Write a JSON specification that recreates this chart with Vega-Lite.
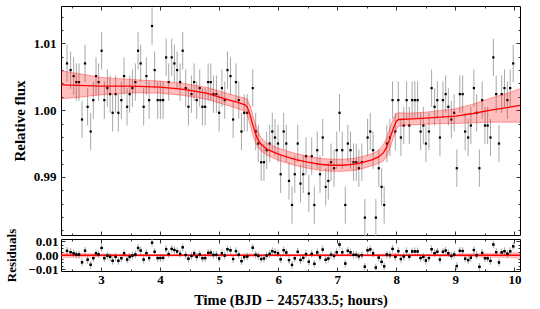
{
  "$schema": "https://vega.github.io/schema/vega-lite/v6.json",
  "padding": {"left": 4, "top": 5, "right": 21, "bottom": 2},
  "bounds": "flush",
  "spacing": 4,
  "background": "white",
  "config": {
    "view": {"stroke": "black", "strokeWidth": 1},
    "axis": {"domain": false, "grid": false, "labelFont": "Liberation Serif", "labelFontWeight": "bold", "labelFontSize": 13, "labelColor": "black", "titleFont": "Liberation Serif", "titleFontWeight": "bold", "titleColor": "black", "tickColor": "black", "tickWidth": 0.8}
  },
  "datasets": {
    "obs": [
      {"t":2.424,"f":1.0070,"r":0.0032,"e":0.0028},{"t":2.485,"f":1.0060,"r":0.0023,"e":0.0028},{"t":2.536,"f":1.0051,"r":0.0014,"e":0.0028},{"t":2.581,"f":1.0042,"r":0.0005,"e":0.0028},{"t":2.627,"f":1.0042,"r":0.0005,"e":0.0028},{"t":2.678,"f":0.9986,"r":-0.0051,"e":0.0028},{"t":2.729,"f":1.0070,"r":0.0033,"e":0.0028},{"t":2.773,"f":1.0005,"r":-0.0032,"e":0.0028},{"t":2.824,"f":0.9968,"r":-0.0069,"e":0.0028},{"t":2.869,"f":1.0015,"r":-0.0021,"e":0.0028},
      {"t":2.915,"f":1.0051,"r":0.0015,"e":0.0028},{"t":2.959,"f":1.0042,"r":0.0006,"e":0.0028},{"t":3.010,"f":1.0089,"r":0.0053,"e":0.0028},{"t":3.056,"f":1.0015,"r":-0.0021,"e":0.0028},{"t":3.107,"f":1.0033,"r":-0.0003,"e":0.0028},{"t":3.153,"f":1.0024,"r":-0.0012,"e":0.0028},{"t":3.197,"f":0.9996,"r":-0.0040,"e":0.0028},{"t":3.247,"f":1.0024,"r":-0.0012,"e":0.0028},{"t":3.293,"f":0.9996,"r":-0.0040,"e":0.0028},{"t":3.344,"f":1.0015,"r":-0.0021,"e":0.0028},
      {"t":3.390,"f":1.0051,"r":0.0015,"e":0.0028},{"t":3.441,"f":1.0005,"r":-0.0031,"e":0.0028},{"t":3.485,"f":1.0024,"r":-0.0012,"e":0.0028},{"t":3.531,"f":1.0033,"r":-0.0003,"e":0.0028},{"t":3.581,"f":1.0042,"r":0.0006,"e":0.0028},{"t":3.627,"f":1.0089,"r":0.0053,"e":0.0028},{"t":3.671,"f":1.0070,"r":0.0034,"e":0.0028},{"t":3.722,"f":1.0005,"r":-0.0031,"e":0.0028},{"t":3.768,"f":1.0051,"r":0.0016,"e":0.0028},{"t":3.814,"f":1.0015,"r":-0.0020,"e":0.0028},
      {"t":3.864,"f":1.0126,"r":0.0091,"e":0.0028},{"t":3.908,"f":1.0060,"r":0.0025,"e":0.0028},{"t":3.959,"f":1.0015,"r":-0.0020,"e":0.0028},{"t":4.005,"f":1.0015,"r":-0.0020,"e":0.0028},{"t":4.051,"f":1.0015,"r":-0.0019,"e":0.0028},{"t":4.102,"f":1.0079,"r":0.0045,"e":0.0028},{"t":4.146,"f":1.0042,"r":0.0009,"e":0.0028},{"t":4.197,"f":1.0079,"r":0.0046,"e":0.0028},{"t":4.242,"f":1.0070,"r":0.0038,"e":0.0028},{"t":4.288,"f":1.0060,"r":0.0028,"e":0.0028},
      {"t":4.339,"f":1.0042,"r":0.0010,"e":0.0028},{"t":4.383,"f":1.0089,"r":0.0058,"e":0.0028},{"t":4.434,"f":1.0033,"r":0.0002,"e":0.0028},{"t":4.480,"f":1.0005,"r":-0.0025,"e":0.0028},{"t":4.531,"f":1.0024,"r":-0.0005,"e":0.0028},{"t":4.576,"f":1.0042,"r":0.0014,"e":0.0028},{"t":4.620,"f":1.0015,"r":-0.0012,"e":0.0028},{"t":4.671,"f":1.0033,"r":0.0006,"e":0.0028},{"t":4.717,"f":1.0005,"r":-0.0021,"e":0.0028},{"t":4.763,"f":1.0005,"r":-0.0020,"e":0.0028},
      {"t":4.814,"f":1.0042,"r":0.0017,"e":0.0028},{"t":4.858,"f":1.0042,"r":0.0019,"e":0.0028},{"t":4.903,"f":1.0024,"r":0.0002,"e":0.0028},{"t":4.954,"f":1.0024,"r":0.0003,"e":0.0028},{"t":5.000,"f":0.9996,"r":-0.0023,"e":0.0028},{"t":5.047,"f":1.0033,"r":0.0015,"e":0.0028},{"t":5.095,"f":1.0015,"r":-0.0002,"e":0.0028},{"t":5.141,"f":1.0060,"r":0.0044,"e":0.0028},{"t":5.192,"f":1.0051,"r":0.0036,"e":0.0028},{"t":5.237,"f":0.9986,"r":-0.0027,"e":0.0028},
      {"t":5.285,"f":1.0042,"r":0.0030,"e":0.0028},{"t":5.332,"f":1.0015,"r":0.0004,"e":0.0028},{"t":5.378,"f":0.9968,"r":-0.0042,"e":0.0028},{"t":5.425,"f":0.9996,"r":-0.0013,"e":0.0028},{"t":5.476,"f":0.9996,"r":-0.0009,"e":0.0028},{"t":5.569,"f":1.0033,"r":0.0055,"e":0.0028},{"t":5.619,"f":0.9968,"r":0.0003,"e":0.0028},{"t":5.663,"f":0.9950,"r":-0.0005,"e":0.0028},{"t":5.712,"f":0.9922,"r":-0.0027,"e":0.0028},{"t":5.759,"f":0.9922,"r":-0.0023,"e":0.0028},
      {"t":5.805,"f":0.9940,"r":-0.0002,"e":0.0028},{"t":5.856,"f":0.9950,"r":0.0010,"e":0.0028},{"t":5.900,"f":0.9968,"r":0.0030,"e":0.0028},{"t":5.946,"f":0.9959,"r":0.0023,"e":0.0028},{"t":5.997,"f":0.9950,"r":0.0015,"e":0.0028},{"t":6.042,"f":0.9904,"r":-0.0029,"e":0.0028},{"t":6.093,"f":0.9968,"r":0.0037,"e":0.0028},{"t":6.137,"f":0.9950,"r":0.0020,"e":0.0028},{"t":6.183,"f":0.9894,"r":-0.0035,"e":0.0028},{"t":6.234,"f":0.9858,"r":-0.0070,"e":0.0028},
      {"t":6.281,"f":0.9904,"r":-0.0022,"e":0.0028},{"t":6.331,"f":0.9950,"r":0.0025,"e":0.0028},{"t":6.378,"f":0.9890,"r":-0.0034,"e":0.0028},{"t":6.424,"f":0.9904,"r":-0.0019,"e":0.0028},{"t":6.471,"f":0.9931,"r":0.0009,"e":0.0028},{"t":6.519,"f":0.9875,"r":-0.0047,"e":0.0028},{"t":6.568,"f":0.9931,"r":0.0010,"e":0.0028},{"t":6.612,"f":0.9858,"r":-0.0062,"e":0.0028},{"t":6.661,"f":0.9940,"r":0.0021,"e":0.0028},{"t":6.708,"f":0.9904,"r":-0.0015,"e":0.0028},
      {"t":6.754,"f":0.9959,"r":0.0041,"e":0.0028},{"t":6.805,"f":0.9885,"r":-0.0033,"e":0.0028},{"t":6.849,"f":0.9894,"r":-0.0024,"e":0.0028},{"t":6.895,"f":0.9922,"r":0.0004,"e":0.0028},{"t":6.946,"f":0.9913,"r":-0.0005,"e":0.0028},{"t":6.992,"f":0.9940,"r":0.0022,"e":0.0028},{"t":7.039,"f":0.9996,"r":0.0078,"e":0.0028},{"t":7.085,"f":0.9940,"r":0.0022,"e":0.0028},{"t":7.136,"f":0.9858,"r":-0.0060,"e":0.0028},{"t":7.180,"f":0.9950,"r":0.0032,"e":0.0028},
      {"t":7.225,"f":0.9940,"r":0.0021,"e":0.0028},{"t":7.276,"f":0.9922,"r":0.0003,"e":0.0028},{"t":7.322,"f":0.9922,"r":0.0003,"e":0.0028},{"t":7.366,"f":0.9913,"r":-0.0007,"e":0.0028},{"t":7.417,"f":0.9922,"r":0.0001,"e":0.0028},{"t":7.468,"f":0.9839,"r":-0.0083,"e":0.0028},{"t":7.514,"f":0.9959,"r":0.0036,"e":0.0028},{"t":7.559,"f":0.9968,"r":0.0043,"e":0.0028},{"t":7.607,"f":0.9940,"r":0.0014,"e":0.0028},{"t":7.654,"f":0.9839,"r":-0.0089,"e":0.0028},
      {"t":7.703,"f":0.9913,"r":-0.0017,"e":0.0028},{"t":7.751,"f":0.9885,"r":-0.0048,"e":0.0028},{"t":7.795,"f":0.9858,"r":-0.0080,"e":0.0028},{"t":7.841,"f":0.9950,"r":0.0005,"e":0.0028},{"t":7.892,"f":0.9959,"r":0.0001,"e":0.0028},{"t":7.937,"f":1.0015,"r":0.0046,"e":0.0028},{"t":7.983,"f":0.9968,"r":-0.0012,"e":0.0028},{"t":8.034,"f":1.0015,"r":0.0030,"e":0.0028},{"t":8.078,"f":0.9959,"r":-0.0027,"e":0.0028},{"t":8.127,"f":0.9977,"r":-0.0009,"e":0.0028},
      {"t":8.175,"f":1.0015,"r":0.0029,"e":0.0028},{"t":8.220,"f":0.9977,"r":-0.0010,"e":0.0028},{"t":8.268,"f":1.0015,"r":0.0028,"e":0.0028},{"t":8.315,"f":1.0015,"r":0.0028,"e":0.0028},{"t":8.361,"f":1.0015,"r":0.0028,"e":0.0028},{"t":8.412,"f":0.9968,"r":-0.0020,"e":0.0028},{"t":8.458,"f":0.9977,"r":-0.0011,"e":0.0028},{"t":8.502,"f":0.9950,"r":-0.0038,"e":0.0028},{"t":8.553,"f":0.9968,"r":-0.0020,"e":0.0028},{"t":8.598,"f":1.0033,"r":0.0044,"e":0.0028},
      {"t":8.649,"f":1.0005,"r":0.0016,"e":0.0028},{"t":8.695,"f":1.0015,"r":0.0026,"e":0.0028},{"t":8.739,"f":0.9959,"r":-0.0031,"e":0.0028},{"t":8.790,"f":1.0015,"r":0.0025,"e":0.0028},{"t":8.836,"f":1.0024,"r":0.0034,"e":0.0028},{"t":8.881,"f":1.0005,"r":0.0015,"e":0.0028},{"t":8.932,"f":0.9986,"r":-0.0005,"e":0.0028},{"t":8.980,"f":0.9996,"r":0.0005,"e":0.0028},{"t":9.025,"f":0.9913,"r":-0.0078,"e":0.0028},{"t":9.076,"f":1.0024,"r":0.0032,"e":0.0028},
      {"t":9.124,"f":1.0024,"r":0.0031,"e":0.0028},{"t":9.166,"f":0.9968,"r":-0.0025,"e":0.0028},{"t":9.217,"f":0.9959,"r":-0.0035,"e":0.0028},{"t":9.263,"f":0.9977,"r":-0.0018,"e":0.0028},{"t":9.314,"f":1.0033,"r":0.0038,"e":0.0028},{"t":9.361,"f":0.9996,"r":0.0000,"e":0.0028},{"t":9.407,"f":0.9913,"r":-0.0084,"e":0.0028},{"t":9.454,"f":1.0015,"r":0.0017,"e":0.0028},{"t":9.502,"f":0.9977,"r":-0.0021,"e":0.0028},{"t":9.547,"f":0.9977,"r":-0.0022,"e":0.0028},
      {"t":9.595,"f":0.9959,"r":-0.0041,"e":0.0028},{"t":9.644,"f":1.0079,"r":0.0078,"e":0.0028},{"t":9.692,"f":1.0024,"r":0.0023,"e":0.0028},{"t":9.739,"f":0.9950,"r":-0.0052,"e":0.0028},{"t":9.785,"f":1.0024,"r":0.0021,"e":0.0028},{"t":9.832,"f":1.0033,"r":0.0030,"e":0.0028},{"t":9.881,"f":1.0015,"r":0.0011,"e":0.0028},{"t":9.929,"f":1.0033,"r":0.0029,"e":0.0028},{"t":9.980,"f":1.0070,"r":0.0065,"e":0.0028}
    ],
    "model": [
      {"t":2.322,"m":1.0038,"lo":1.0017,"hi":1.0059,"rlo":-0.0021,"rhi":0.0021},
      {"t":2.6,"m":1.0037,"lo":1.0019,"hi":1.0055,"rlo":-0.0018,"rhi":0.0018},
      {"t":3.0,"m":1.0036,"lo":1.0023,"hi":1.0049,"rlo":-0.0013,"rhi":0.0013},
      {"t":3.5,"m":1.0036,"lo":1.0026,"hi":1.0046,"rlo":-0.0010,"rhi":0.0010},
      {"t":4.0,"m":1.00345,"lo":1.00255,"hi":1.00435,"rlo":-0.0009,"rhi":0.0009},
      {"t":4.4,"m":1.0031,"lo":1.0022,"hi":1.0040,"rlo":-0.0009,"rhi":0.0009},
      {"t":4.8,"m":1.0025,"lo":1.0016,"hi":1.0034,"rlo":-0.0009,"rhi":0.0009},
      {"t":5.1,"m":1.0017,"lo":1.0008,"hi":1.0026,"rlo":-0.0009,"rhi":0.0009},
      {"t":5.3,"m":1.0012,"lo":1.0003,"hi":1.0021,"rlo":-0.0009,"rhi":0.0009},
      {"t":5.44,"m":1.0008,"lo":0.9998,"hi":1.0018,"rlo":-0.0010,"rhi":0.0010},
      {"t":5.48,"m":1.0004,"lo":0.9992,"hi":1.0016,"rlo":-0.0012,"rhi":0.0012},
      {"t":5.52,"m":0.9994,"lo":0.9980,"hi":1.0008,"rlo":-0.0014,"rhi":0.0014},
      {"t":5.56,"m":0.9981,"lo":0.9966,"hi":0.9996,"rlo":-0.0015,"rhi":0.0015},
      {"t":5.60,"m":0.9969,"lo":0.9955,"hi":0.9983,"rlo":-0.0014,"rhi":0.0014},
      {"t":5.65,"m":0.9957,"lo":0.9945,"hi":0.9969,"rlo":-0.0012,"rhi":0.0012},
      {"t":5.70,"m":0.9950,"lo":0.9940,"hi":0.9960,"rlo":-0.0010,"rhi":0.0010},
      {"t":5.80,"m":0.9942,"lo":0.9933,"hi":0.9951,"rlo":-0.0009,"rhi":0.0009},
      {"t":5.95,"m":0.9936,"lo":0.9927,"hi":0.9945,"rlo":-0.0009,"rhi":0.0009},
      {"t":6.1,"m":0.9931,"lo":0.9922,"hi":0.9940,"rlo":-0.0009,"rhi":0.0009},
      {"t":6.3,"m":0.9926,"lo":0.9917,"hi":0.9935,"rlo":-0.0009,"rhi":0.0009},
      {"t":6.5,"m":0.9922,"lo":0.9913,"hi":0.9931,"rlo":-0.0009,"rhi":0.0009},
      {"t":6.7,"m":0.9919,"lo":0.9910,"hi":0.9928,"rlo":-0.0009,"rhi":0.0009},
      {"t":6.9,"m":0.99175,"lo":0.99085,"hi":0.99265,"rlo":-0.0009,"rhi":0.0009},
      {"t":7.1,"m":0.99175,"lo":0.99085,"hi":0.99265,"rlo":-0.0009,"rhi":0.0009},
      {"t":7.3,"m":0.9919,"lo":0.9910,"hi":0.9928,"rlo":-0.0009,"rhi":0.0009},
      {"t":7.45,"m":0.9922,"lo":0.9913,"hi":0.9931,"rlo":-0.0009,"rhi":0.0009},
      {"t":7.6,"m":0.9926,"lo":0.9917,"hi":0.9935,"rlo":-0.0009,"rhi":0.0009},
      {"t":7.7,"m":0.9930,"lo":0.9920,"hi":0.9940,"rlo":-0.0010,"rhi":0.0010},
      {"t":7.78,"m":0.9936,"lo":0.9924,"hi":0.9948,"rlo":-0.0012,"rhi":0.0012},
      {"t":7.84,"m":0.9945,"lo":0.9931,"hi":0.9959,"rlo":-0.0014,"rhi":0.0014},
      {"t":7.90,"m":0.9960,"lo":0.9945,"hi":0.9975,"rlo":-0.0015,"rhi":0.0015},
      {"t":7.96,"m":0.9975,"lo":0.9961,"hi":0.9989,"rlo":-0.0014,"rhi":0.0014},
      {"t":8.00,"m":0.9983,"lo":0.9971,"hi":0.9995,"rlo":-0.0012,"rhi":0.0012},
      {"t":8.04,"m":0.9986,"lo":0.9976,"hi":0.9996,"rlo":-0.0010,"rhi":0.0010},
      {"t":8.2,"m":0.99865,"lo":0.99775,"hi":0.99955,"rlo":-0.0009,"rhi":0.0009},
      {"t":8.5,"m":0.9988,"lo":0.9979,"hi":0.9997,"rlo":-0.0009,"rhi":0.0009},
      {"t":8.8,"m":0.9990,"lo":0.9980,"hi":1.0000,"rlo":-0.0010,"rhi":0.0010},
      {"t":9.0,"m":0.9991,"lo":0.9980,"hi":1.0002,"rlo":-0.0011,"rhi":0.0011},
      {"t":9.3,"m":0.9995,"lo":0.9981,"hi":1.0009,"rlo":-0.0014,"rhi":0.0014},
      {"t":9.6,"m":1.0000,"lo":0.9982,"hi":1.0018,"rlo":-0.0018,"rhi":0.0018},
      {"t":9.9,"m":1.0004,"lo":0.9982,"hi":1.0026,"rlo":-0.0022,"rhi":0.0022},
      {"t":10.095,"m":1.0007,"lo":0.9982,"hi":1.0032,"rlo":-0.0025,"rhi":0.0025}
    ]
  },
  "vconcat": [
    {
      "width": 459,
      "height": 229,
      "layer": [
        {
          "data": {"name": "obs"},
          "mark": {"type": "errorbar", "color": "#a8a8a8", "thickness": 1},
          "encoding": {
            "x": {"field": "t", "type": "quantitative", "scale": {"domain": [2.322, 10.095], "nice": false, "zero": false}, "axis": null},
            "y": {"field": "f", "type": "quantitative", "scale": {"domain": [0.9813, 1.0156], "nice": false, "zero": false}, "axis": null},
            "yError": {"field": "e"}
          }
        },
        {
          "data": {"name": "obs"},
          "mark": {"type": "square", "size": 5, "color": "black", "opacity": 1},
          "encoding": {
            "x": {"field": "t", "type": "quantitative", "scale": {"domain": [2.322, 10.095], "nice": false, "zero": false}, "axis": null},
            "y": {"field": "f", "type": "quantitative", "scale": {"domain": [0.9813, 1.0156], "nice": false, "zero": false}, "axis": null}
          }
        },
        {
          "data": {"name": "model"},
          "mark": {"type": "area", "color": "red", "opacity": 0.25},
          "encoding": {
            "x": {"field": "t", "type": "quantitative", "scale": {"domain": [2.322, 10.095], "nice": false, "zero": false}, "axis": {"orient": "bottom", "values": [3,4,5,6,7,8,9,10], "labels": false, "tickSize": -4, "title": null}},
            "y": {"field": "lo", "type": "quantitative", "scale": {"domain": [0.9813, 1.0156], "nice": false, "zero": false}, "axis": {"orient": "left", "values": [0.99, 1.0, 1.01], "format": ".2f", "tickSize": -4, "labelPadding": 9, "title": "Relative flux", "titleFontSize": 15, "titleX": -42, "titleY": 114.5, "titleBaseline": "middle", "titleAngle": -90}},
            "y2": {"field": "hi"}
          }
        },
        {
          "data": {"name": "model"},
          "mark": {"type": "line", "color": "red", "strokeWidth": 0.7, "opacity": 0.5},
          "encoding": {
            "x": {"field": "t", "type": "quantitative", "scale": {"domain": [2.322, 10.095], "nice": false, "zero": false}, "axis": {"orient": "top", "values": [3,4,5,6,7,8,9,10], "labels": false, "tickSize": -4, "title": null}},
            "y": {"field": "lo", "type": "quantitative", "scale": {"domain": [0.9813, 1.0156], "nice": false, "zero": false}, "axis": {"orient": "right", "values": [0.99, 1.0, 1.01], "labels": false, "tickSize": -4, "title": null}}
          }
        },
        {
          "data": {"name": "model"},
          "mark": {"type": "line", "color": "red", "strokeWidth": 0.7, "opacity": 0.5},
          "encoding": {
            "x": {"field": "t", "type": "quantitative", "scale": {"domain": [2.322, 10.095], "nice": false, "zero": false}, "axis": {"orient": "bottom", "values": [2.5,3.5,4.5,5.5,6.5,7.5,8.5,9.5], "labels": false, "tickSize": -2, "title": null}},
            "y": {"field": "hi", "type": "quantitative", "scale": {"domain": [0.9813, 1.0156], "nice": false, "zero": false}, "axis": {"orient": "left", "values": [0.982,0.984,0.986,0.988,0.992,0.994,0.996,0.998,1.002,1.004,1.006,1.008,1.012,1.014], "labels": false, "tickSize": -2, "title": null}}
          }
        },
        {
          "data": {"name": "model"},
          "mark": {"type": "line", "color": "red", "strokeWidth": 1.3},
          "encoding": {
            "x": {"field": "t", "type": "quantitative", "scale": {"domain": [2.322, 10.095], "nice": false, "zero": false}, "axis": {"orient": "top", "values": [2.5,3.5,4.5,5.5,6.5,7.5,8.5,9.5], "labels": false, "tickSize": -2, "title": null}},
            "y": {"field": "m", "type": "quantitative", "scale": {"domain": [0.9813, 1.0156], "nice": false, "zero": false}, "axis": {"orient": "right", "values": [0.982,0.984,0.986,0.988,0.992,0.994,0.996,0.998,1.002,1.004,1.006,1.008,1.012,1.014], "labels": false, "tickSize": -2, "title": null}}
          }
        }
      ],
      "resolve": {"axis": {"x": "independent", "y": "independent"}}
    },
    {
      "width": 459,
      "height": 32,
      "layer": [
        {
          "data": {"name": "obs"},
          "mark": {"type": "errorbar", "color": "#a8a8a8", "thickness": 1},
          "encoding": {
            "x": {"field": "t", "type": "quantitative", "scale": {"domain": [2.322, 10.095], "nice": false, "zero": false}, "axis": null},
            "y": {"field": "r", "type": "quantitative", "scale": {"domain": [-0.0114, 0.0118], "nice": false, "zero": false}, "axis": null},
            "yError": {"field": "e"}
          }
        },
        {
          "data": {"name": "model"},
          "mark": {"type": "area", "color": "red", "opacity": 0.25},
          "encoding": {
            "x": {"field": "t", "type": "quantitative", "scale": {"domain": [2.322, 10.095], "nice": false, "zero": false}, "axis": {"orient": "bottom", "values": [3,4,5,6,7,8,9,10], "format": "d", "tickSize": -4, "labelPadding": 6, "title": "Time (BJD − 2457433.5; hours)", "titleFontSize": 14.5, "titleY": 29, "titleBaseline": "middle"}},
            "y": {"field": "rlo", "type": "quantitative", "scale": {"domain": [-0.0114, 0.0118], "nice": false, "zero": false}, "axis": {"orient": "left", "values": [-0.01, 0, 0.01], "format": ".2f", "tickSize": -4, "labelPadding": 7, "title": "Residuals", "titleFontSize": 13, "titleX": -49.5, "titleY": 16, "titleBaseline": "middle", "titleAngle": -90}},
            "y2": {"field": "rhi"}
          }
        },
        {
          "data": {"name": "model"},
          "mark": {"type": "line", "color": "red", "strokeWidth": 1.5},
          "encoding": {
            "x": {"field": "t", "type": "quantitative", "scale": {"domain": [2.322, 10.095], "nice": false, "zero": false}, "axis": {"orient": "top", "values": [3,4,5,6,7,8,9,10], "labels": false, "tickSize": -4, "title": null}},
            "y": {"datum": 0, "type": "quantitative", "scale": {"domain": [-0.0114, 0.0118], "nice": false, "zero": false}, "axis": {"orient": "right", "values": [-0.01, 0, 0.01], "labels": false, "tickSize": -4, "title": null}}
          }
        },
        {
          "data": {"name": "obs"},
          "mark": {"type": "square", "size": 5, "color": "black", "opacity": 1},
          "encoding": {
            "x": {"field": "t", "type": "quantitative", "scale": {"domain": [2.322, 10.095], "nice": false, "zero": false}, "axis": {"orient": "bottom", "values": [2.5,3.5,4.5,5.5,6.5,7.5,8.5,9.5], "labels": false, "tickSize": -2, "title": null}},
            "y": {"field": "r", "type": "quantitative", "scale": {"domain": [-0.0114, 0.0118], "nice": false, "zero": false}, "axis": {"orient": "left", "values": [-0.0075, -0.005, -0.0025, 0.0025, 0.005, 0.0075], "labels": false, "tickSize": -2, "title": null}}
          }
        },
        {
          "data": {"name": "obs"},
          "mark": {"type": "square", "size": 5, "color": "black", "opacity": 1},
          "encoding": {
            "x": {"field": "t", "type": "quantitative", "scale": {"domain": [2.322, 10.095], "nice": false, "zero": false}, "axis": {"orient": "top", "values": [2.5,3.5,4.5,5.5,6.5,7.5,8.5,9.5], "labels": false, "tickSize": -2, "title": null}},
            "y": {"field": "r", "type": "quantitative", "scale": {"domain": [-0.0114, 0.0118], "nice": false, "zero": false}, "axis": {"orient": "right", "values": [-0.0075, -0.005, -0.0025, 0.0025, 0.005, 0.0075], "labels": false, "tickSize": -2, "title": null}}
          }
        }
      ],
      "resolve": {"axis": {"x": "independent", "y": "independent"}}
    }
  ]
}
